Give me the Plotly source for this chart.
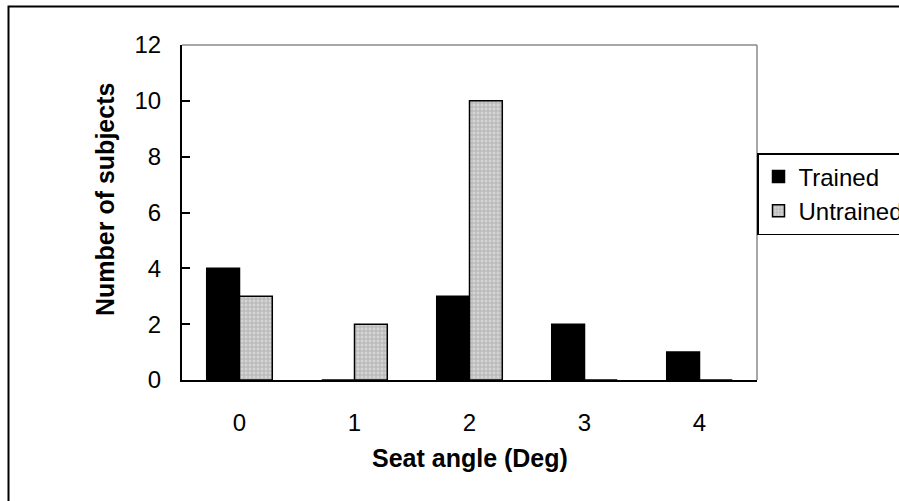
import plotly.graph_objects as go

categories = ["0", "1", "2", "3", "4"]
trained = [4, 0, 3, 2, 1]
untrained = [3, 2, 10, 0, 0]
y_ticks = [0, 2, 4, 6, 8, 10, 12]

FONT = "Arial, Liberation Sans, sans-serif"

fig = go.Figure()
fig.add_trace(go.Bar(
    x=categories, y=trained, name="Trained",
    marker=dict(color="black", line=dict(color="black", width=1.5)),
))
fig.add_trace(go.Bar(
    x=categories, y=untrained, name="Untrained",
    marker=dict(color="#d4d4d4", line=dict(color="black", width=1.5),
                pattern=dict(shape="+", fgcolor="#8c8c8c", size=4, solidity=0.4)),
))

L, R, T, B = 182, 142, 45, 121
W, H = 899, 501
pw, ph = W - L - R, H - T - B

def px(x):
    return (x - L) / pw

def py(y):
    return (H - B - y) / ph

shapes = [
    dict(type="rect", xref="paper", yref="paper", x0=px(8.5), x1=px(910), y0=py(6.5), y1=py(515),
         line=dict(color="black", width=2), fillcolor="rgba(0,0,0,0)", layer="below"),
    dict(type="line", xref="paper", yref="paper", x0=0, x1=1, y0=1, y1=1,
         line=dict(color="#8a8a8a", width=1.5)),
    dict(type="line", xref="paper", yref="paper", x0=1, x1=1, y0=0, y1=1,
         line=dict(color="#8a8a8a", width=1.5)),
]

annotations = [
    dict(text="<b>Number of subjects</b>", xref="paper", yref="paper",
         x=px(105), y=py(200), xanchor="center", yanchor="middle",
         textangle=-90, showarrow=False, font=dict(size=25)),
    dict(text="<b>Seat angle (Deg)</b>", xref="paper", yref="paper",
         x=px(470), y=py(458), xanchor="center", yanchor="middle",
         showarrow=False, font=dict(size=25)),
]

fig.update_layout(
    width=W, height=H,
    margin=dict(l=L, r=R, t=T, b=B, autoexpand=False),
    paper_bgcolor="white", plot_bgcolor="white",
    barmode="group", bargap=0.43, bargroupgap=0,
    font=dict(family=FONT, color="black", size=24),
    shapes=shapes, annotations=annotations,
    legend=dict(x=1.0, xanchor="left", y=py(153), yanchor="top",
                bordercolor="black", borderwidth=1.5, bgcolor="white",
                font=dict(size=24), tracegroupgap=0),
    showlegend=True,
)
fig.update_xaxes(
    showline=True, linecolor="black", linewidth=2, ticks="",
    ticklabelstandoff=20, tickfont=dict(size=24),
    showgrid=False, zeroline=False,
)
fig.update_yaxes(
    range=[0, 12], tickvals=y_ticks, showline=True, linecolor="black", linewidth=2,
    ticks="inside", ticklen=8, tickwidth=2, tickcolor="black",
    ticklabelstandoff=14, tickfont=dict(size=24),
    showgrid=False, zeroline=False,
)

fig.write_html("out.html")
